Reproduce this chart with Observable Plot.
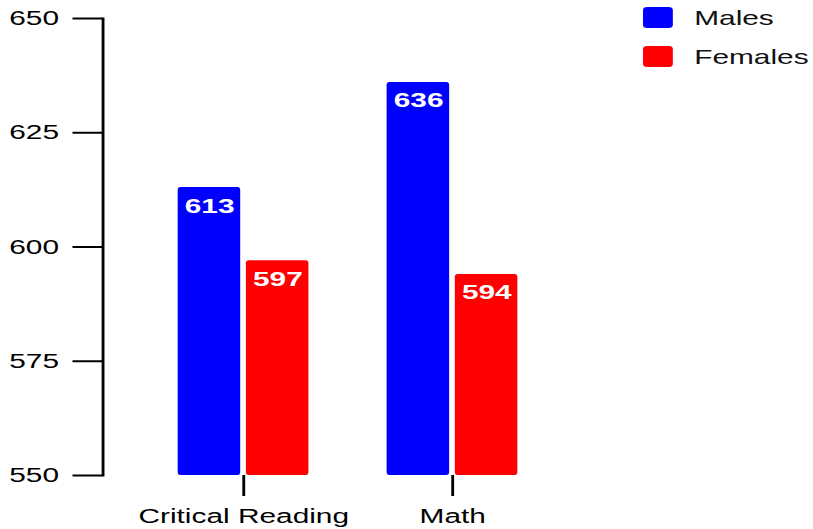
<!DOCTYPE html>
<html><head><meta charset="utf-8">
<script src="https://cdn.jsdelivr.net/npm/d3@7"></script>
<script src="https://cdn.jsdelivr.net/npm/@observablehq/plot@0.6"></script>
<style>
body{margin:0;background:#fff;}
#wrap{position:relative;width:813px;height:529px;overflow:hidden;}
#legend{position:absolute;left:643px;top:7px;transform:scaleX(1.4213);transform-origin:0 0;font-family:'Liberation Sans',Arial,sans-serif;font-size:21px;color:#111;}
.row{display:flex;align-items:center;height:21px;margin-bottom:18px;}
.sw{width:21px;height:21px;border-radius:3px;margin-right:15px;}
</style>
</head><body><div id="wrap"></div>
<script>
const subjects = ["Critical Reading", "Math"];
const genders = ["Males", "Females"];
const males = [613, 636];
const females = [597, 594];
const colors = ["#0000ff", "#ff0000"];
const yTicks = [550, 575, 600, 625, 650];

const maleData = subjects.map((s, i) => ({subject: s, gender: genders[0], score: males[i]}));
const femaleData = subjects.map((s, i) => ({subject: s, gender: genders[1], score: females[i]}));

const W = 572;          // drawn narrow, then stretched horizontally like the reference
const halfInset = 48;   // each bar fills one side of the subject band
const labelShift = 24;
const chart = Plot.plot({
  width: W, height: 529,
  marginLeft: 72, marginRight: 154, marginTop: 18, marginBottom: 54,
  style: {fontFamily: "'Liberation Sans', Arial, sans-serif", fontSize: "21px", color: "#000", background: "#fff"},
  x: {domain: subjects, paddingInner: 0.371, paddingOuter: 0.357, label: null},
  y: {domain: [550, 650], ticks: yTicks, label: null},
  color: {domain: genders, range: colors},
  marks: [
    Plot.barY(maleData, {x: "subject", y1: 550, y2: "score", fill: "gender", insetRight: halfInset, rx: 2, ry: 3}),
    Plot.barY(femaleData, {x: "subject", y1: 550, y2: "score", fill: "gender", insetLeft: halfInset, rx: 2, ry: 3}),
    Plot.text(maleData, {x: "subject", y: "score", text: d => String(d.score), dx: -labelShift, fill: "white", fontWeight: "bold", fontSize: 21, lineAnchor: "top", dy: 10}),
    Plot.text(femaleData, {x: "subject", y: "score", text: d => String(d.score), dx: labelShift, fill: "white", fontWeight: "bold", fontSize: 21, lineAnchor: "top", dy: 10}),
    Plot.axisY({ticks: yTicks, tickSize: 21, tickPadding: 10, strokeWidth: 2, fontSize: 21, label: null}),
    Plot.axisX({tickSize: 21, tickPadding: 12, strokeWidth: 2, fontSize: 21, label: null}),
    Plot.frame({anchor: "left", strokeWidth: 2})
  ]
});
chart.setAttribute("preserveAspectRatio", "none");
chart.style.width = "813px";
chart.style.height = "529px";
chart.style.maxWidth = "none";
const wrap = document.getElementById("wrap");
wrap.appendChild(chart);

const legend = document.createElement("div");
legend.id = "legend";
genders.forEach((g, i) => {
  const row = document.createElement("div");
  row.className = "row";
  const sw = document.createElement("div");
  sw.className = "sw";
  sw.style.background = colors[i];
  const t = document.createElement("span");
  t.textContent = g;
  row.appendChild(sw); row.appendChild(t);
  legend.appendChild(row);
});
wrap.appendChild(legend);
</script>
</body></html>
